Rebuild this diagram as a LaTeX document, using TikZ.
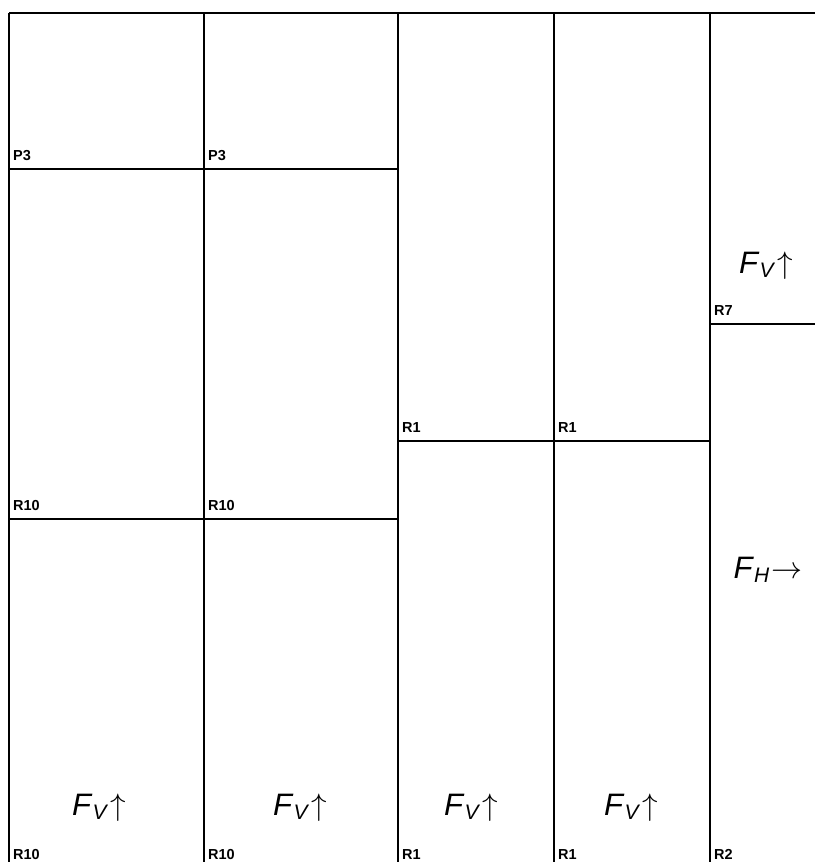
\documentclass[tikz,border=0pt]{standalone}
\usepackage{fix-cm}
\usepackage{fontspec}
\setmainfont{Liberation Sans}
\usetikzlibrary{positioning}

\newcommand{\forcetext}[2]{\textit{F}\raisebox{-0.3ex}{\fontsize{21}{21}\selectfont\textit{#1}}\kern2pt$#2$}

\begin{document}
\begin{tikzpicture}[
    x=1pt, y=-1pt,
    wall/.style={line width=1.2pt, black},
    tag/.style={font=\fontsize{14.5}{14.5}\selectfont\bfseries, anchor=base west, inner sep=0pt},
    force/.style={font=\fontsize{31}{31}\selectfont, anchor=base, inner sep=0pt}
]
\useasboundingbox (0,0) rectangle (815,862);

% outline and columns
\coordinate (tl) at (9,13);
\coordinate (tr) at (815,13);
\draw[wall] (tl) -- (tr);
\foreach \cx/\cn in {9/a, 204/b, 398/c, 554/d, 710/e} {
    \coordinate (top\cn) at (\cx,13);
    \coordinate (bot\cn) at (\cx,862);
    \draw[wall] (top\cn) -- (bot\cn);
}

% horizontal splits
\coordinate (p3l) at (9,169);   \coordinate (p3r) at (398,169);
\coordinate (r10l) at (9,519);  \coordinate (r10r) at (398,519);
\coordinate (r1l) at (398,441); \coordinate (r1r) at (710,441);
\coordinate (r7l) at (710,324); \coordinate (r7r) at (815,324);
\draw[wall] (p3l) -- (p3r);
\draw[wall] (r10l) -- (r10r);
\draw[wall] (r1l) -- (r1r);
\draw[wall] (r7l) -- (r7r);

% region tags
\node[tag] (tagP3a) at (13,160) {P3};
\node[tag] (tagP3b) at (208,160) {P3};
\node[tag] (tagR10a) at (13,510) {R10};
\node[tag] (tagR10b) at (208,510) {R10};
\node[tag] (tagR1a) at (402,432) {R1};
\node[tag] (tagR1b) at (558,432) {R1};
\node[tag] (tagR7) at (714,315) {R7};
\node[tag] (tagR10c) at (13,859) {R10};
\node[tag] (tagR10d) at (208,859) {R10};
\node[tag] (tagR1c) at (402,859) {R1};
\node[tag] (tagR1d) at (558,859) {R1};
\node[tag] (tagR2) at (714,859) {R2};

% forces
\node[force] (fva) at (99,815) {\forcetext{V}{\uparrow}};
\node[force] (fvb) at (300,815) {\forcetext{V}{\uparrow}};
\node[force] (fvc) at (471,815) {\forcetext{V}{\uparrow}};
\node[force] (fvd) at (631,815) {\forcetext{V}{\uparrow}};
\node[force] (fve) at (766,273) {\forcetext{V}{\uparrow}};
\node[force] (fh) at (768,578) {\forcetext{H}{\rightarrow}};

\end{tikzpicture}
\end{document}
